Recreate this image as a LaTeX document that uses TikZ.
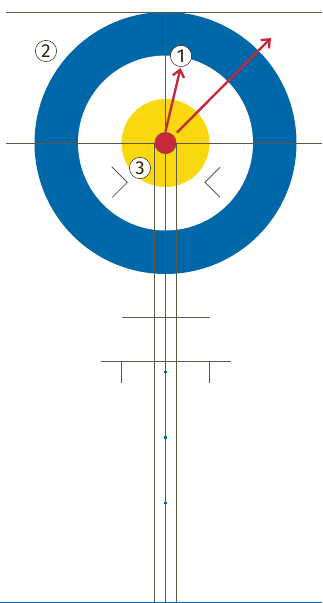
\documentclass[tikz,border=0pt]{standalone}
\usepackage{fontspec}
\usepackage{xcolor}
\setmainfont{Fira Sans}
\usetikzlibrary{arrows.meta,positioning,calc}
\definecolor{ringblue}{HTML}{0067A9}
\definecolor{buttonyellow}{HTML}{F9D80F}
\definecolor{teered}{HTML}{C7283C}
\definecolor{linegray}{HTML}{5C5946}
\definecolor{numink}{HTML}{2A2410}
\tikzset{
  ringdisc/.style={circle,minimum size=#1*0.03cm,inner sep=0pt},
  numcirc/.style={circle,draw=numink,fill=white,line width=0.45pt,minimum size=0.64cm,inner sep=0pt,text=numink,font=\fontsize{16}{16}\selectfont},
  iceline/.style={linegray,line width=0.7pt},
  redarrow/.style={-{Straight Barb[length=2.1mm,width=3.5mm]},teered,line width=2pt},
  dotmark/.style={fill=ringblue,minimum width=0.075cm,minimum height=0.075cm,inner sep=0pt}
}
\begin{document}
\begin{tikzpicture}[x=0.03cm,y=-0.03cm]
  \useasboundingbox (0,0) rectangle (322,603);
  % rings
  \node[ringdisc=262,fill=ringblue] (outer) at (165.5,143) {};
  \node[ringdisc=175,fill=white] (inner) at (165.5,143) {};
  \node[ringdisc=88,fill=buttonyellow] (button) at (165.5,143) {};
  % ends of the long lines
  \coordinate (topl) at (6,12);
  \coordinate (topr) at (322,12);
  \coordinate (midl) at (6,143);
  \coordinate (midr) at (322,143);
  \coordinate (cbot) at (165.5,602);
  \coordinate (ctop) at (165.5,12);
  \coordinate (lmid) at (154.5,143);
  \coordinate (lbot) at (154.5,602);
  \coordinate (rmid) at (176.5,143);
  \coordinate (rbot) at (176.5,602);
  \draw[iceline] (topl)--(topr);
  \draw[iceline] (midl)--(midr);
  \draw[iceline] (ctop)--(cbot);
  \draw[iceline] (lmid)--(lbot);
  \draw[iceline] (rmid)--(rbot);
  % hog and back lines
  \coordinate (hogl) at (122,317.5);
  \coordinate (hogr) at (210,317.5);
  \coordinate (barl) at (101,361);
  \coordinate (barr) at (231,361);
  \coordinate (tickl) at (121.5,361);
  \coordinate (tickr) at (209.5,361);
  \coordinate (tickle) at (121.5,383);
  \coordinate (tickre) at (209.5,383);
  \draw[iceline] (hogl)--(hogr);
  \draw[iceline] (barl)--(barr);
  \draw[iceline] (tickl)--(tickle);
  \draw[iceline] (tickr)--(tickre);
  % chevrons
  \coordinate (chla) at (111.7,166.7);
  \coordinate (chlb) at (127.3,182.3);
  \coordinate (chlc) at (112.3,197.3);
  \coordinate (chra) at (220,167.3);
  \coordinate (chrb) at (205,182.3);
  \coordinate (chrc) at (220,197.3);
  \draw[iceline] (chla)--(chlb)--(chlc);
  \draw[iceline] (chra)--(chrb)--(chrc);
  % small marks on the centre line
  \node[dotmark] (mka) at (165.5,372) {};
  \node[dotmark] (mkb) at (165.5,437.5) {};
  \node[dotmark] (mkc) at (165.5,503) {};
  % bottom line
  \coordinate (botl) at (0,602.3);
  \coordinate (botr) at (322,602.3);
  \draw[ringblue,line width=1.1pt] (botl)--(botr);
  % tee and arrows
  \node[ringdisc=21.5,fill=teered,draw=linegray,line width=0.4pt] (tee) at (165.5,143) {};
  \coordinate (tipa) at (180.5,68);
  \coordinate (tipb) at (271,38);
  \coordinate (tailb) at (177,132.5);
  \coordinate (taila) at (165.5,131.5);
  \draw[redarrow] (taila)--(tipa);
  \draw[redarrow] (tailb)--(tipb);
  % numbers
  \node[numcirc] (n1) at (181,56) {1};
  \node[numcirc] (n2) at (46,51) {2};
  \node[numcirc] (n3) at (140,168) {3};
\end{tikzpicture}
\end{document}
